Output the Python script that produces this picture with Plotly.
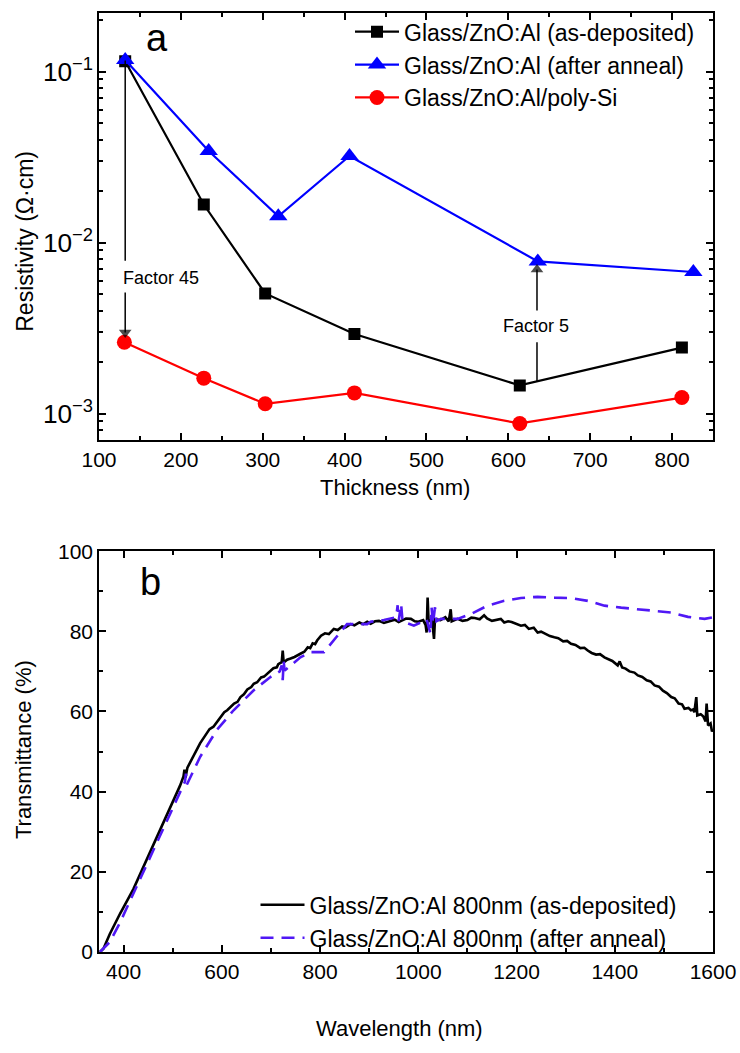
import plotly.graph_objects as go

# ---------------- Panel a data ----------------
thick_asdep = [132, 228, 303, 412, 614, 812]
rho_asdep = [0.115, 0.0167, 0.00504, 0.00292, 0.00146, 0.00243]

thick_anneal = [132, 234, 319, 406, 636, 826]
rho_anneal = [0.117, 0.0343, 0.01426, 0.0321, 0.00776, 0.00673]

thick_polysi = [131, 228, 303, 412, 614, 812]
rho_polysi = [0.00261, 0.00161, 0.00114, 0.00132, 0.000875, 0.00124]

# ---------------- Panel b data ----------------
wl_asdep = [352, 359, 372, 393, 420, 454, 488, 515, 522, 524, 526, 530, 556, 570, 575, 583, 590,
            597, 605, 611, 618, 625, 632, 638, 645, 652, 660, 665, 672, 680, 686, 692, 700, 705,
            712, 715, 722, 724, 726, 733, 740, 748, 760, 768, 775, 780, 785, 790, 794, 802, 810,
            818, 828, 836, 845, 852, 862, 870, 880, 888, 896, 903, 912, 920, 930, 944, 952, 960,
            968, 975, 985, 993, 1000, 1010, 1015, 1017, 1019, 1021, 1028, 1032, 1034, 1045, 1055,
            1062, 1066, 1068, 1080, 1090, 1100, 1108, 1115, 1125, 1134, 1140, 1150, 1160, 1168,
            1175, 1183, 1190, 1200, 1209, 1217, 1225, 1235, 1243, 1250, 1260, 1268, 1277, 1285,
            1295, 1303, 1311, 1320, 1330, 1338, 1345, 1353, 1362, 1370, 1379, 1387, 1395, 1406,
            1410, 1415, 1422, 1430, 1440, 1447, 1456, 1465, 1473, 1481, 1490, 1498, 1506, 1515,
            1522, 1530, 1537, 1542, 1550, 1555, 1560, 1562, 1566, 1568, 1575, 1580, 1585, 1587,
            1590, 1595, 1598, 1600]
T_asdep = [0, 0.8, 4.5, 9.6, 15.7, 24.8, 33.9, 41.5, 43.8, 45.5, 43.5, 46, 52.1, 54.5, 55.6, 56.2, 57.4,
           58.5, 59.8, 60.3, 61.2, 62, 62.4, 63.6, 64.3, 65.5, 66.1, 66.9, 67.3, 68.5, 68.7, 69.4, 70.2, 70.8,
           71.0, 71.8, 72.3, 75.2, 72.2, 72.9, 73.2, 73.6, 74.4, 74.9, 76, 75.8, 77, 76.8, 77.7, 78.9, 79.5,
           79.3, 80.6, 80.3, 81.2, 81.0, 81.8, 81.5, 82.2, 81.8, 82.4, 81.9, 82.5, 82.6, 82.1, 82.6, 82.9, 82.3,
           82.8, 83.2, 83.1, 82.5, 82.4, 82.8, 81.5, 79.7, 88.4, 82.5, 83, 78.1, 83, 82.8, 83.5,
           82.5, 85.5, 82.5, 83.1, 82.6, 82.8, 83.4, 83.3, 83, 84, 83.2, 82.6, 82.8, 83.1,
           82.2, 82.5, 82.3, 81.8, 81.4, 81.6, 80.6, 80.9, 79.7, 79.9, 79.2, 78.8, 78.5, 78.3,
           77.5, 77.6, 76.9, 76.6, 75.8, 75.9, 75.2, 74.6, 74.2, 74.3, 73.5, 73.1, 72.6, 71.5,
           72.5, 71.0, 70.7, 70, 69.7, 69.0, 68.6, 67.8, 67.5, 66.5, 66.2, 65.2, 64.6, 63.6,
           63.3, 62, 61.8, 60.7, 60.9, 60.3, 60.5, 59.8, 63.6, 59, 59.3, 58.8, 57.5, 62,
           56.5, 57, 55, 55.5]

wl_anneal = [352, 372, 393, 427, 461, 495, 518, 525, 527, 529, 556, 590, 624, 665, 699, 718,
             722, 724, 726, 728, 760, 781, 808, 828, 855, 875, 896, 903, 930, 955, 958, 960,
             965, 968, 991, 1010, 1017, 1025, 1027, 1030, 1034, 1037, 1046, 1080, 1107, 1141,
             1175, 1209, 1243, 1277, 1311, 1345, 1379, 1413, 1447, 1481, 1515, 1549, 1583, 1600]
T_anneal = [0, 2.5, 7.4, 16.5, 25.6, 34.7, 41, 42.5, 44.5, 41.8, 48.7, 55.4, 60.3, 65.3, 68.6, 70,
            71.5, 67.8, 72.5, 70.2, 73.5, 74.8, 74.8, 77.7, 81.8, 81.8, 81.8, 82.4, 82.8, 83.5, 86.5, 82.5,
            86.8, 82.5, 81.4, 82.5, 83, 79.3, 86, 82, 86, 82.5, 83.1, 83.1, 84.3, 86.4,
            87.6, 88.3, 88.6, 88.4, 88.3, 87.6, 86.4, 85.9, 85.5, 85.1, 84.7, 83.6, 83.1, 83.5]

# axis title texts
title_x1 = "Thickness (nm)"
title_y1 = "Resistivity (Ω·cm)"
title_x2 = "Wavelength (nm)"
title_y2 = "Transmittance (%)"

FONT = "Liberation Sans, Arial, sans-serif"
BLUE_DASH = "#5018F5"

fig = go.Figure()

# Panel a traces
fig.add_trace(go.Scatter(x=thick_asdep, y=rho_asdep, mode="lines+markers",
                         name="Glass/ZnO:Al (as-deposited)",
                         line=dict(color="black", width=2.2),
                         marker=dict(symbol="square", size=12, color="black"),
                         xaxis="x", yaxis="y", legend="legend"))
fig.add_trace(go.Scatter(x=thick_anneal, y=rho_anneal, mode="lines+markers",
                         name="Glass/ZnO:Al (after anneal)",
                         line=dict(color="#0000FF", width=2.2),
                         marker=dict(symbol="triangle-up", size=16, color="#0000FF"),
                         xaxis="x", yaxis="y", legend="legend"))
fig.add_trace(go.Scatter(x=thick_polysi, y=rho_polysi, mode="lines+markers",
                         name="Glass/ZnO:Al/poly-Si",
                         line=dict(color="#FF0000", width=2.2),
                         marker=dict(symbol="circle", size=15, color="#FF0000"),
                         xaxis="x", yaxis="y", legend="legend"))

# Panel b traces
fig.add_trace(go.Scatter(x=wl_asdep, y=T_asdep, mode="lines",
                         name="Glass/ZnO:Al 800nm (as-deposited)",
                         line=dict(color="black", width=2.6),
                         xaxis="x2", yaxis="y2", legend="legend2"))
fig.add_trace(go.Scatter(x=wl_anneal, y=T_anneal, mode="lines",
                         name="Glass/ZnO:Al 800nm (after anneal)",
                         line=dict(color=BLUE_DASH, width=2.6, dash="13px,8px"),
                         xaxis="x2", yaxis="y2", legend="legend2"))

axis_common = dict(showline=True, linecolor="black", linewidth=1.5, mirror="allticks",
                   ticks="inside", ticklen=7, tickwidth=1.5, tickcolor="black",
                   showgrid=False, zeroline=False,
                   tickfont=dict(family=FONT, size=21, color="black"))
minor_common = dict(ticks="inside", ticklen=4, tickwidth=1.5, tickcolor="black")

fig.update_layout(
    width=740, height=1053,
    margin=dict(l=99, r=27, t=1, b=101),
    paper_bgcolor="white", plot_bgcolor="white",
    font=dict(family=FONT, color="black"),
    xaxis=dict(domain=[0, 1], anchor="y", range=[100, 850], tick0=100, dtick=100,
               minor=dict(dtick=50, **minor_common), **axis_common),
    yaxis=dict(domain=[0.5456, 1], anchor="x", type="log", range=[-3.153, -0.657],
               dtick=1, exponentformat="power",
               minor=dict(dtick="D1", **minor_common), **axis_common),
    xaxis2=dict(domain=[0, 1], anchor="y2", range=[350, 1600], tick0=400, dtick=200,
                minor=dict(dtick=100, **minor_common), **axis_common),
    yaxis2=dict(domain=[0, 0.4269], anchor="x2", range=[0, 100], dtick=20,
                minor=dict(dtick=10, **minor_common), **axis_common),
    legend=dict(x=0.4088, y=1.003, xanchor="left", yanchor="top", bgcolor="rgba(0,0,0,0)",
                font=dict(family=FONT, size=23, color="black"), itemwidth=44,
                tracegroupgap=0),
    legend2=dict(x=0.2549, y=0.0731, xanchor="left", yanchor="top", bgcolor="rgba(0,0,0,0)",
                 font=dict(family=FONT, size=23, color="black"), itemwidth=44,
                 tracegroupgap=0),
    showlegend=True,
)

def paper_text(text, x, y, size, angle=0):
    fig.add_annotation(text=text, x=x, y=y, xref="paper", yref="paper",
                       xanchor="center", yanchor="middle", textangle=angle,
                       showarrow=False, font=dict(family=FONT, size=size, color="black"))

# Axis titles
paper_text(title_x1, 0.4813, 0.4945, 22)
paper_text(title_y1, -0.1205, 0.7564, 23, -90)
paper_text(title_x2, 0.4894, -0.0816, 22)
paper_text(title_y2, -0.1238, 0.2161, 22, -90)

# Panel letters
paper_text("a", 0.0945, 0.9735, 38)
paper_text("b", 0.0844, 0.3939, 38)

# Factor 45 annotation (vertical guide lines drawn as lines, arrowheads as markers)
fig.add_shape(type="line", xref="x", yref="y", x0=132, x1=132, y0=0.116, y1=0.00783,
              line=dict(color="black", width=1.5))
fig.add_annotation(text="Factor 45", x=126.5, y=-2.205, xref="x", yref="y", xanchor="left",
                   yanchor="middle", showarrow=False, font=dict(family=FONT, size=18, color="black"))
fig.add_trace(go.Scatter(x=[132, 132], y=[0.0051, 0.00298], mode="lines+markers",
                         line=dict(color="black", width=1.5),
                         marker=dict(symbol=["line-ew", "triangle-down"], size=[0, 11],
                                     color="black", line=dict(width=0)),
                         xaxis="x", yaxis="y", showlegend=False, hoverinfo="skip"))

# Factor 5 annotation
fig.add_shape(type="line", xref="x", yref="y", x0=635, x1=635, y0=0.00153, y1=0.00261,
              line=dict(color="black", width=1.5))
fig.add_annotation(text="Factor 5", x=633.5, y=-2.49, xref="x", yref="y",
                   xanchor="center", yanchor="middle",
                   showarrow=False, font=dict(family=FONT, size=18, color="black"))
fig.add_trace(go.Scatter(x=[635, 635], y=[0.00401, 0.00697], mode="lines+markers",
                         line=dict(color="black", width=1.5),
                         marker=dict(symbol=["line-ew", "triangle-up"], size=[0, 11],
                                     color="black", line=dict(width=0)),
                         xaxis="x", yaxis="y", showlegend=False, hoverinfo="skip"))

fig.write_html("out.html")
